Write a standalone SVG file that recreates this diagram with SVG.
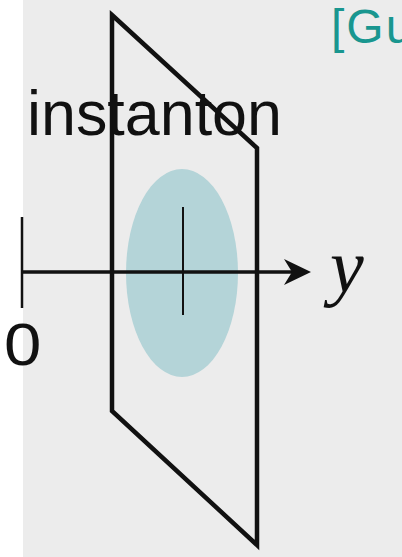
<svg xmlns="http://www.w3.org/2000/svg" width="402" height="557" viewBox="0 0 402 557">
<style>
.ln{fill:none;stroke:#111;stroke-linejoin:miter}
.lbl{font-family:"Liberation Sans",Arial,sans-serif;fill:#111}
</style>
<rect x="0" y="0" width="402" height="557" fill="#ffffff"/>
<rect x="23" y="0" width="379" height="557" fill="#ececec"/>
<g id="instanton-blob">
<ellipse cx="182" cy="273" rx="56" ry="104" fill="#b4d4d8"/>
</g>
<g id="plane">
<polygon class="ln" points="112,15 257,148 257,545 112,411" stroke-width="4.5"/>
</g>
<g id="connectors">
<line class="ln" x1="22" y1="217" x2="22" y2="308" stroke-width="2.5"/>
<line class="ln" x1="22" y1="272" x2="294" y2="272" stroke-width="3.5"/>
<path d="M311,272 L284,259 L292,272 L284,285 Z" fill="#111"/>
<line class="ln" x1="183" y1="207" x2="183" y2="315" stroke-width="2"/>
</g>
<g id="labels">
<text class="lbl" x="27" y="135" font-size="63" textLength="255" lengthAdjust="spacingAndGlyphs">instanton</text>
<text class="lbl" x="0" y="0" font-size="60" transform="translate(4,365) scale(1.12,1)">0</text>
<text x="330" y="292" font-family="'Liberation Serif','Times New Roman',serif" font-style="italic" font-size="76" fill="#111">y</text>
<text x="331" y="43" font-family="'Liberation Sans',Arial,sans-serif" font-size="48" letter-spacing="2" fill="#19968f">[Gu</text>
</g>
</svg>
